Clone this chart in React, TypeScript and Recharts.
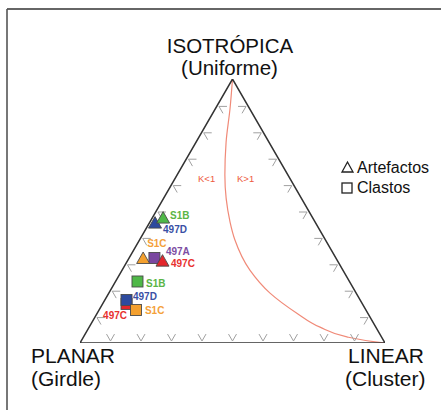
import React from 'react';
import { ComposedChart, Scatter, Line, XAxis, YAxis, Customized } from 'recharts';

// ---- Data (ternary %, I = isotropic, P = planar, L = linear) ----
const artefactSamples = ['497D', 'S1B', 'S1C', '497C'];
const artefactI = [45.6, 47.5, 32.2, 31.2];
const artefactP = [52.6, 49.0, 63.2, 57.35];
const artefactL = [1.8, 3.5, 4.6, 11.45];

const clastSamples = ['S1B', '497C', '497D', 'S1C', '497A'];
const clastI = [23.3, 14.8, 16.3, 12.5, 32.2];
const clastP = [69.5, 77.35, 76.6, 75.4, 59.5];
const clastL = [7.2, 7.85, 7.1, 12.1, 8.3];

// K = 1 boundary curve
const curveI = [100, 88.9, 76.1, 63.6, 45.8, 39.0, 27.6, 18.9, 11.3, 6.0, 2.3, 0.35, 0];
const curveP = [0, 6.35, 14.05, 20.7, 27.9, 29.7, 30.5, 28.25, 23.25, 18.3, 11.35, 2.45, 0];
const curveL = [0, 4.75, 9.85, 15.7, 26.3, 31.3, 41.9, 52.85, 65.45, 75.7, 86.35, 97.2, 100];

// Triangle vertices (I, P, L): PLANAR, LINEAR, ISOTRÓPICA, back to PLANAR
const vertexI = [0, 0, 100, 0];
const vertexP = [100, 0, 0, 100];
const vertexL = [0, 100, 0, 0];

const tickValues = [10, 20, 30, 40, 50, 60, 70, 80, 90];

// ---- Styles ----
const sampleColors: Record<string, string> = {
  S1B: '#4fb848',
  '497D': '#2d4a9e',
  S1C: '#f4a02e',
  '497A': '#7a47a0',
  '497C': '#e4262b',
};
const labelColors: Record<string, string> = {
  S1B: '#5bb546',
  '497D': '#3a4fa5',
  S1C: '#f4a13a',
  '497A': '#7d4ea3',
  '497C': '#e8312f',
};
const labelOffsets: Record<string, { dx: number; dy: number; anchor: 'start' | 'end' }> = {
  'tri-S1B': { dx: 7, dy: 1, anchor: 'start' },
  'tri-497D': { dx: 8, dy: 10.5, anchor: 'start' },
  'tri-S1C': { dx: 4, dy: -11, anchor: 'start' },
  'tri-497C': { dx: 8.5, dy: 6.5, anchor: 'start' },
  'sq-497A': { dx: 11.5, dy: -3, anchor: 'start' },
  'sq-S1B': { dx: 8.5, dy: 6, anchor: 'start' },
  'sq-497D': { dx: 6.5, dy: 0, anchor: 'start' },
  'sq-497C': { dx: 0.5, dy: 15, anchor: 'end' },
  'sq-S1C': { dx: 9, dy: 4, anchor: 'start' },
};

const FONT = '"Liberation Sans", Arial, Helvetica, sans-serif';
const H3 = Math.sqrt(3) / 2;

const toXY = (I: number, P: number, L: number) => {
  const s = I + P + L;
  const i = (I / s) * 100;
  const l = (L / s) * 100;
  return { x: l + i / 2, y: i * H3 };
};

const artefactData = artefactSamples.map((s, k) => ({
  ...toXY(artefactI[k], artefactP[k], artefactL[k]),
  sample: s,
  kind: 'tri',
}));
const clastData = clastSamples.map((s, k) => ({
  ...toXY(clastI[k], clastP[k], clastL[k]),
  sample: s,
  kind: 'sq',
}));
const curveData = curveI.map((v, k) => toXY(v, curveP[k], curveL[k]));
const frameData = vertexI.map((v, k) => toXY(v, vertexP[k], vertexL[k]));

const tickData = [
  ...tickValues.map((t) => ({ ...toXY(0, 100 - t, t), edge: 'bottom' })),
  ...tickValues.map((t) => ({ ...toXY(t, 100 - t, 0), edge: 'left' })),
  ...tickValues.map((t) => ({ ...toXY(t, 0, 100 - t), edge: 'right' })),
];

const Chevron = (props: any) => {
  const { cx, cy, payload } = props;
  if (cx == null || cy == null) return <g />;
  const len = 8;
  const off = 2;
  let n = [0, -1];
  let a1 = [0.5, -H3];
  let a2 = [-0.5, -H3];
  if (payload.edge === 'left') {
    n = [H3, 0.5];
    a1 = [1, 0];
    a2 = [0.5, H3];
  } else if (payload.edge === 'right') {
    n = [-H3, 0.5];
    a1 = [-1, 0];
    a2 = [-0.5, H3];
  }
  const tx = cx + n[0] * off;
  const ty = cy + n[1] * off;
  const d = `M ${tx + a1[0] * len} ${ty + a1[1] * len} L ${tx} ${ty} L ${tx + a2[0] * len} ${ty + a2[1] * len}`;
  return <path d={d} stroke="#a0a0a0" strokeWidth={1} fill="none" />;
};

const Marker = (props: any) => {
  const { cx, cy, payload } = props;
  if (cx == null || cy == null) return <g />;
  const fill = sampleColors[payload.sample];
  const off = labelOffsets[`${payload.kind}-${payload.sample}`];
  const shape =
    payload.kind === 'tri' ? (
      <polygon
        points={`${cx},${cy - 6} ${cx - 6.5},${cy + 5.5} ${cx + 6.5},${cy + 5.5}`}
        fill={fill}
        stroke="#4a4a4a"
        strokeWidth={0.9}
      />
    ) : (
      <rect x={cx - 5.5} y={cy - 5.5} width={11} height={11} fill={fill} stroke="#4a4a4a" strokeWidth={0.9} />
    );
  return (
    <g>
      {shape}
      {off && (
        <text
          x={cx + off.dx}
          y={cy + off.dy}
          textAnchor={off.anchor}
          fontFamily={FONT}
          fontSize={10}
          fontWeight="bold"
          fill={labelColors[payload.sample]}
        >
          {payload.sample}
        </text>
      )}
    </g>
  );
};

const Decorations = () => (
  <g fontFamily={FONT}>
    <line x1={7} y1={9} x2={441} y2={9} stroke="#333" strokeWidth={1.6} />
    <line x1={7} y1={9} x2={7} y2={410} stroke="#555" strokeWidth={1.6} />
    <text x={230} y={53} textAnchor="middle" fontSize={20.5} fill="#111">ISOTRÓPICA</text>
    <text x={229.5} y={75} textAnchor="middle" fontSize={20.5} fill="#111">(Uniforme)</text>
    <text x={31} y={363} fontSize={21} fill="#111">PLANAR</text>
    <text x={31} y={386} fontSize={21} fill="#111">(Girdle)</text>
    <text x={348} y={363} fontSize={21} fill="#111">LINEAR</text>
    <text x={345} y={386} fontSize={21} fill="#111">(Cluster)</text>
    <text x={198} y={182} fontSize={9.5} fill="#ee5a40">K&lt;1</text>
    <text x={237} y={182} fontSize={9.5} fill="#ee5a40">K&gt;1</text>
    <polygon points="347.5,162 342,172 353,172" fill="none" stroke="#222" strokeWidth={1.3} />
    <text x={357} y={173} fontSize={16} fill="#111">Artefactos</text>
    <rect x={342} y={183} width={10} height={10} fill="none" stroke="#222" strokeWidth={1.3} />
    <text x={357} y={193} fontSize={16} fill="#111">Clastos</text>
  </g>
);

export default function App() {
  return (
    <div style={{ position: 'absolute', left: 0, top: 0, width: 441, height: 410, overflow: 'hidden', background: '#fff' }}>
      <ComposedChart width={441} height={410} margin={{ top: 79, right: 56, bottom: 67, left: 80 }}>
        <XAxis type="number" dataKey="x" domain={[0, 100]} hide allowDataOverflow />
        <YAxis type="number" dataKey="y" domain={[0, 100 * H3]} hide allowDataOverflow />
        <Customized component={Decorations} />
        <Scatter
          data={frameData}
          line={{ stroke: '#333', strokeWidth: 1.5 }}
          shape={() => <g />}
          isAnimationActive={false}
        />
        <Scatter data={tickData} shape={Chevron} isAnimationActive={false} />
        <Line
          data={curveData}
          dataKey="y"
          type="monotoneY"
          stroke="#f08a78"
          strokeWidth={1.2}
          dot={false}
          activeDot={false}
          isAnimationActive={false}
        />
        <Scatter data={clastData} shape={Marker} isAnimationActive={false} />
        <Scatter data={artefactData} shape={Marker} isAnimationActive={false} />
      </ComposedChart>
    </div>
  );
}
